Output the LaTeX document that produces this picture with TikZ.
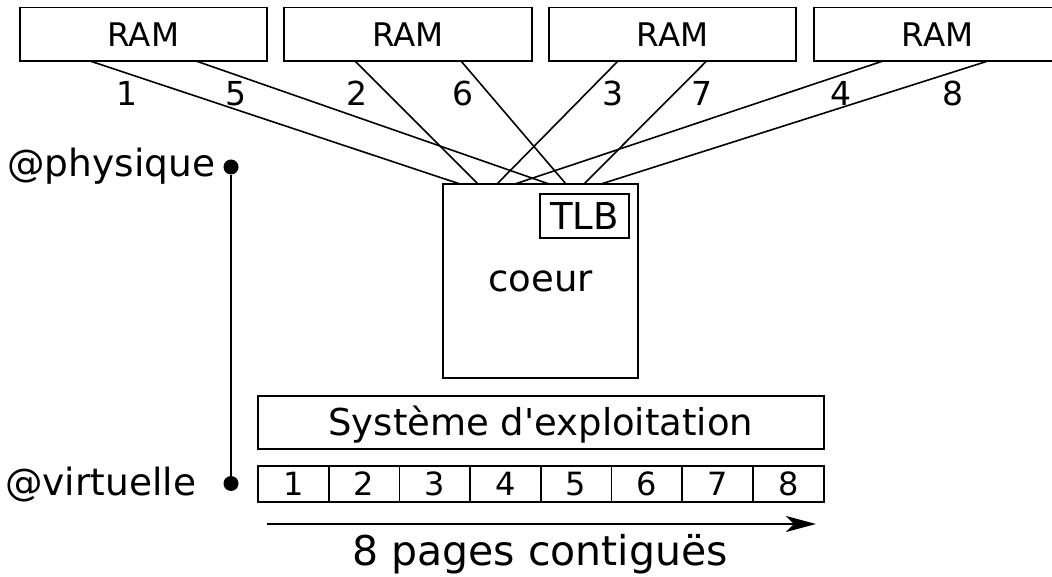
\documentclass[tikz,border=0pt]{standalone}
\usepackage{fontspec}
\setmainfont{DejaVu Sans}[Ligatures=TeXOff]
\usetikzlibrary{arrows.meta}
\newcommand\myfs[1]{\fontsize{#1}{#1}\selectfont}
\begin{document}
\begin{tikzpicture}[x=1pt,y=-1pt,
  box/.style={draw,line width=1.8pt,inner sep=0pt,outer sep=0pt,rectangle,text depth=0pt},
  rambox/.style={box,minimum width=247.4pt,minimum height=53.5pt,text height=25.4pt,font=\myfs{32.5}},
  wire/.style={line width=1.6pt},
  num/.style={anchor=base,inner sep=0pt,font=\myfs{33}},
  lbl/.style={anchor=base west,inner sep=0pt,font=\myfs{37.5}},
  pagebox/.style={box,minimum width=70.7pt,minimum height=35.7pt,text height=22.2pt,font=\myfs{32}},
  dot/.style={circle,fill=black,inner sep=0pt,minimum size=15pt}]
\useasboundingbox (0,0) rectangle (1052,577);
\clip (0,0) rectangle (1052,577);
% RAM boxes
\node[rambox] (ram1) at (143.3,34.3) {RAM};
\node[rambox] (ram2) at (408,34.3) {RAM};
\node[rambox] (ram3) at (672.5,34.3) {RAM};
\node[rambox] (ram4) at (937.5,34.3) {RAM};
% core and TLB
\node[box,minimum width=195pt,minimum height=194pt,text height=20pt,font=\myfs{37}] (core) at (540.5,281) {coeur};
\node[box,minimum width=89pt,minimum height=44pt,text height=28pt,font=\myfs{37}] (tlb) at (584.5,216) {TLB};
% ports
\coordinate (p1) at (90,61);   \coordinate (c1) at (460,184);
\coordinate (p2) at (355,61);  \coordinate (c2) at (478,184);
\coordinate (p3) at (618,61);  \coordinate (c3) at (497,184);
\coordinate (p4) at (883,61);  \coordinate (c4) at (515,184);
\coordinate (p5) at (196,61);  \coordinate (c5) at (549,184);
\coordinate (p6) at (461,61);  \coordinate (c6) at (566,184);
\coordinate (p7) at (706.6,61);\coordinate (c7) at (584,184);
\coordinate (p8) at (988,61);  \coordinate (c8) at (601,184);
\foreach \i in {1,...,8} { \draw[wire] (p\i) -- (c\i); }
% labels on wires
\node[num] (n1) at (126.7,106) {1};
\node[num] (n5) at (236,106) {5};
\node[num] (n2) at (356.8,106) {2};
\node[num] (n6) at (462.5,106) {6};
\node[num] (n3) at (612.5,106) {3};
\node[num] (n7) at (702,106) {7};
\node[num] (n4) at (841,106) {4};
\node[num] (n8) at (953,106) {8};
% addresses
\node[lbl] (phys) at (7,177) {@physique};
\node[lbl] (virt) at (5,495) {@virtuelle};
\node[dot] (dphys) at (231,167) {};
\node[dot] (dvirt) at (231,483.5) {};
\draw[wire] (dphys) -- (dvirt);
% OS
\node[box,minimum width=565.6pt,minimum height=53pt,text height=25pt,font=\myfs{37}] (os) at (540.8,422.5) {Système d'exploitation};
% pages
\foreach \i in {1,...,8} {
  \node[pagebox] (pg\i) at ({258+70.7*(\i-0.5)},483.9) {\i};
}
\coordinate (ar1) at (267,524);
\coordinate (ar2) at (816,524);
\draw[wire,-{Stealth[length=30pt,width=16pt,inset=8pt]}] (ar1) -- (ar2);
\node[anchor=base,inner sep=0pt,font=\myfs{41}] (contig) at (540,565) {8 pages contiguës};
\end{tikzpicture}
\end{document}
